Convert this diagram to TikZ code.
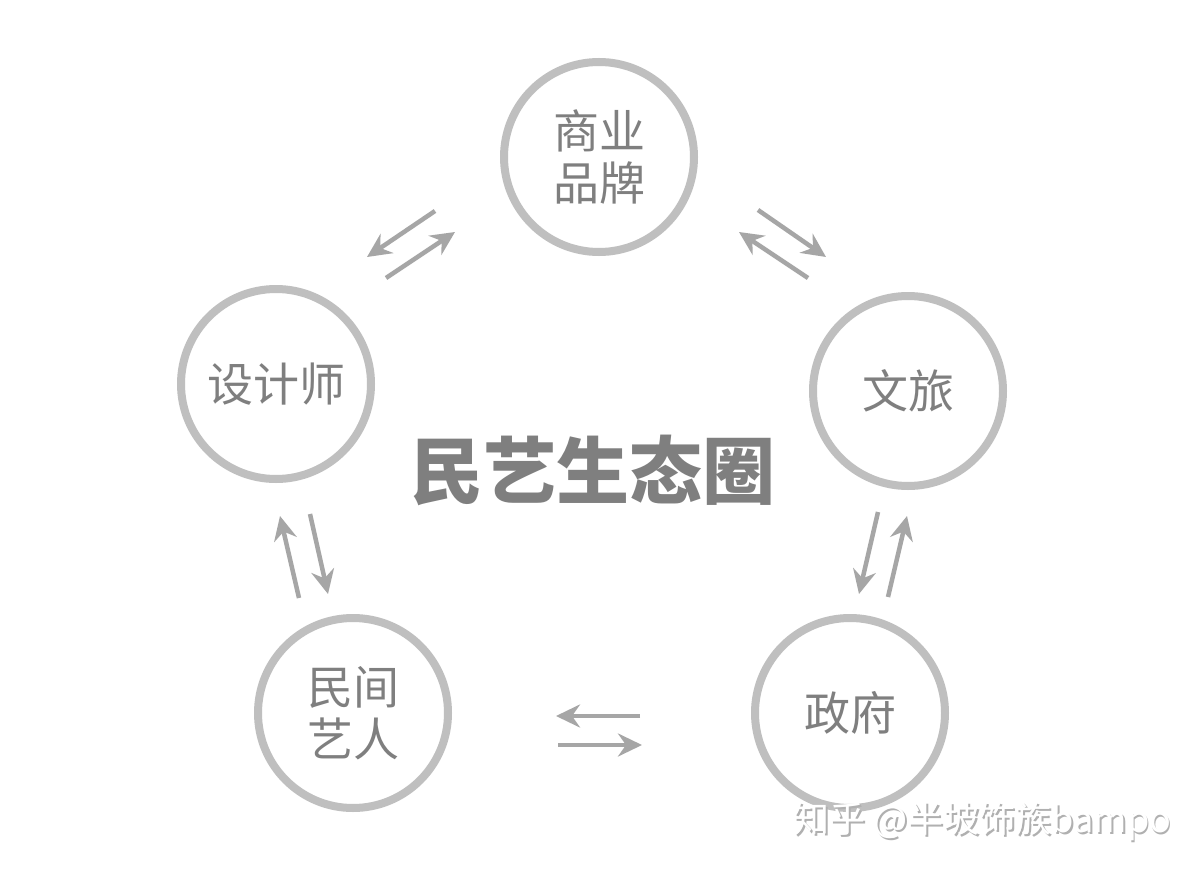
\documentclass[tikz,border=0pt]{standalone}
\usepackage{fontspec}
\setmainfont{Noto Sans CJK SC}
\usetikzlibrary{arrows.meta}
\definecolor{ringgray}{HTML}{BFBFBF}
\definecolor{arrgray}{HTML}{A6A6A6}
\definecolor{txtgray}{HTML}{7F7F7F}
\definecolor{wmshade}{HTML}{B0B0B0}
\tikzset{
  ring/.style={circle, draw=ringgray, line width=8pt, minimum size=190pt, inner sep=0pt,
    text=txtgray, align=center, font=\fontsize{46}{52}\selectfont},
  arr/.style={draw=arrgray, line width=4.5pt,
    -{Stealth[length=24pt,width=23pt,inset=8pt]}},
  title/.style={text=txtgray, font=\fontsize{73}{78}\selectfont\bfseries},
  wmark/.style={anchor=west, font=\fontsize{36}{40}\selectfont, inner sep=0pt},
}
\begin{document}
\begin{tikzpicture}[x=1pt,y=-1pt]
\useasboundingbox[fill=white] (0,0) rectangle (1200,875);
% circles
\node[ring] (biz) at (599,157) {商业\\品牌};
\node[ring] (des) at (276,384) {设计师};
\node[ring] (cul) at (908,391) {文旅};
\node[ring] (art) at (353,713) {民间\\艺人};
\node[ring] (gov) at (850,713) {政府};
% title
\node[title] (ttl) at (593,470) {民艺生态圈};
% arrow end points
\coordinate (p1a) at (435,211); \coordinate (p1b) at (367,257);
\coordinate (p1c) at (386,278); \coordinate (p1d) at (455,232);
\coordinate (p2a) at (758,210); \coordinate (p2b) at (826,257);
\coordinate (p2c) at (808,278); \coordinate (p2d) at (739,232);
\coordinate (p3a) at (878,512); \coordinate (p3b) at (859,594);
\coordinate (p3c) at (888,597); \coordinate (p3d) at (907,516);
\coordinate (p4a) at (299,598); \coordinate (p4b) at (280,516);
\coordinate (p4c) at (310,514); \coordinate (p4d) at (328,594);
\coordinate (p5a) at (640,716); \coordinate (p5b) at (556,716);
\coordinate (p5c) at (558,745); \coordinate (p5d) at (642,745);
\draw[arr] (p1a) -- (p1b);
\draw[arr] (p1c) -- (p1d);
\draw[arr] (p2a) -- (p2b);
\draw[arr] (p2c) -- (p2d);
\draw[arr] (p3a) -- (p3b);
\draw[arr] (p3c) -- (p3d);
\draw[arr] (p4a) -- (p4b);
\draw[arr] (p4c) -- (p4d);
\draw[arr] (p5a) -- (p5b);
\draw[arr] (p5c) -- (p5d);
% watermark
\node[wmark, text=wmshade] (wms) at (795,823) {知乎 @半坡饰族bampo};
\node[wmark, text=white] (wm) at (793.5,821.5) {知乎 @半坡饰族bampo};
\end{tikzpicture}
\end{document}
